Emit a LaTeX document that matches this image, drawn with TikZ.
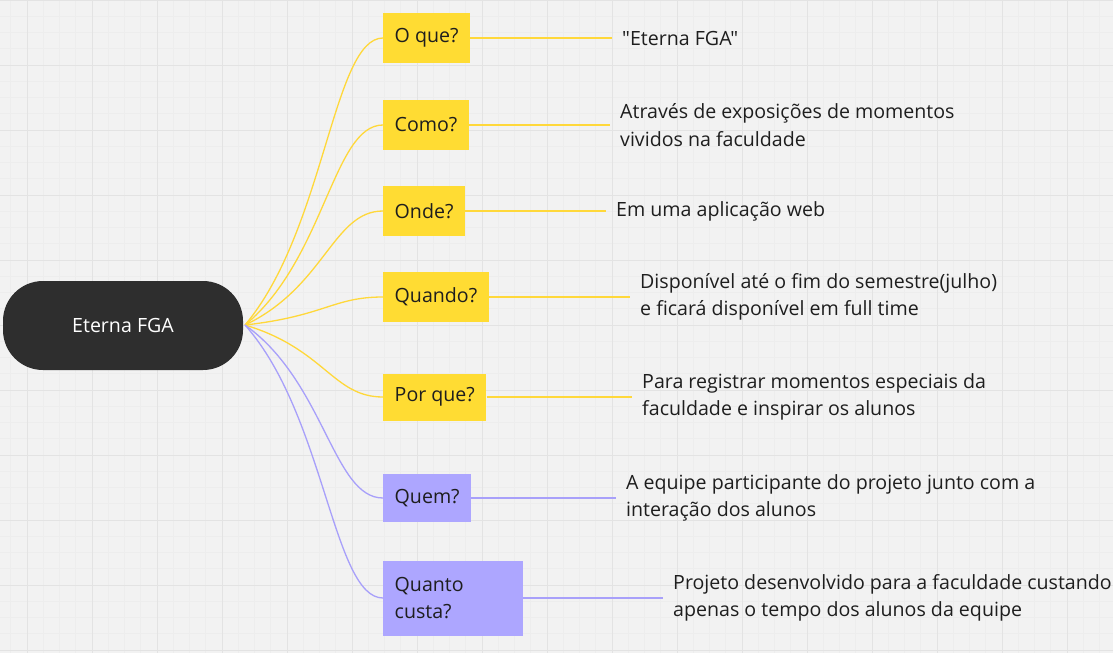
\documentclass[tikz,border=0pt]{standalone}
\usepackage{fontspec}
\setmainfont{Open Sans}[Ligatures=TeXOff]
\usetikzlibrary{graphs}
\definecolor{boardbg}{RGB}{242,242,242}
\definecolor{gridminor}{RGB}{237,237,237}
\definecolor{gridmajor}{RGB}{227,227,227}
\definecolor{pillgray}{RGB}{46,46,46}
\definecolor{boxyellow}{RGB}{255,220,51}
\definecolor{boxpurple}{RGB}{173,166,255}
\definecolor{lineyellow}{RGB}{255,216,58}
\definecolor{linepurple}{RGB}{168,160,250}
\definecolor{textdark}{RGB}{30,30,30}
\tikzstyle{minorgrid} = [draw=gridminor, line width=0.8pt]
\tikzstyle{majorgrid} = [draw=gridmajor, line width=1pt]
\tikzstyle{qbox} = [anchor=west, inner xsep=11.5pt, minimum height=50pt, text=textdark]
\tikzstyle{ybox} = [qbox, fill=boxyellow]
\tikzstyle{pbox} = [qbox, fill=boxpurple]
\tikzstyle{ans} = [anchor=west, inner xsep=10pt, align=left, text=textdark]
\tikzstyle{yline} = [draw=lineyellow, line width=1.3pt]
\tikzstyle{pline} = [draw=linepurple, line width=1.3pt]

\begin{document}
\begin{tikzpicture}[x=1pt, y=-1pt, font=\fontsize{19.6pt}{27.5pt}\selectfont]
    \useasboundingbox (0,0) rectangle (1113,653);
    \fill[boardbg] (0,0) rectangle (1113,653);
    % board grid
    \foreach \i in {0,...,68} {
        \draw[minorgrid] ({10.75+16.25*\i},0) -- ({10.75+16.25*\i},653);
    }
    \foreach \i in {0,...,40} {
        \draw[minorgrid] (0,{16.25*\i}) -- (1113,{16.25*\i});
    }
    \foreach \i in {0,...,16} {
        \draw[majorgrid] ({27+65*\i},0) -- ({27+65*\i},653);
    }
    \foreach \i in {0,...,10} {
        \draw[majorgrid] (0,{65*\i}) -- (1113,{65*\i});
    }

    \node[fill=pillgray, text=white, rounded corners=40pt, minimum width=240pt, minimum height=89pt] (root) at (123,325.5) {Eterna FGA};
    \coordinate (hub) at (245,325);

    \node[ybox] (oque) at (383,38) {O que?};
    \node[ybox] (como) at (383,125) {Como?};
    \node[ybox] (onde) at (383,211) {Onde?};
    \node[ybox] (quando) at (383,297) {Quando?};
    \node[ybox, minimum height=47pt] (porque) at (383,397) {Por que?};
    \node[pbox, minimum height=48pt] (quem) at (383,498) {Quem?};
    \node[pbox, text width=117pt, align=left, minimum height=75pt] (quanto) at (383,598) {Quanto\\custa?};

    \node[ans] (oqueans) at (612,38) {"Eterna FGA"};
    \node[ans] (comoans) at (610,125) {Através de exposições de momentos\\vividos na faculdade};
    \node[ans] (ondeans) at (606,211) {Em uma aplicação web};
    \node[ans] (quandoans) at (630,297) {Disponível até o fim do semestre(julho)\\e ficará disponível em full time};
    \node[ans] (porqueans) at (632,397) {Para registrar momentos especiais da\\faculdade e inspirar os alunos};
    \node[ans] (quemans) at (616,498) {A equipe participante do projeto junto com a\\interação dos alunos};
    \node[ans] (quantoans) at (663,598) {Projeto desenvolvido para a faculdade custando\\apenas o tempo dos alunos da equipe};

    % branches
    \draw[yline] (hub) .. controls +(80,-95) and +(-50,0) .. (oque.west);
    \draw[yline] (hub) .. controls +(80,-66) and +(-50,0) .. (como.west);
    \draw[yline] (hub) .. controls +(80,-38) and +(-50,0) .. (onde.west);
    \draw[yline] (hub) .. controls +(80,-9) and +(-50,0) .. (quando.west);
    \draw[yline] (hub) .. controls +(80,24) and +(-50,0) .. (porque.west);
    \draw[pline] (hub) .. controls +(80,57) and +(-50,0) .. (quem.west);
    \draw[pline] (hub) .. controls +(80,90) and +(-50,0) .. (quanto.west);

    \graph {
        (oque) --[yline] (oqueans);
        (como) --[yline] (comoans);
        (onde) --[yline] (ondeans);
        (quando) --[yline] (quandoans);
        (porque) --[yline] (porqueans);
        (quem) --[pline] (quemans);
        (quanto) --[pline] (quantoans);
    };
\end{tikzpicture}
\end{document}
